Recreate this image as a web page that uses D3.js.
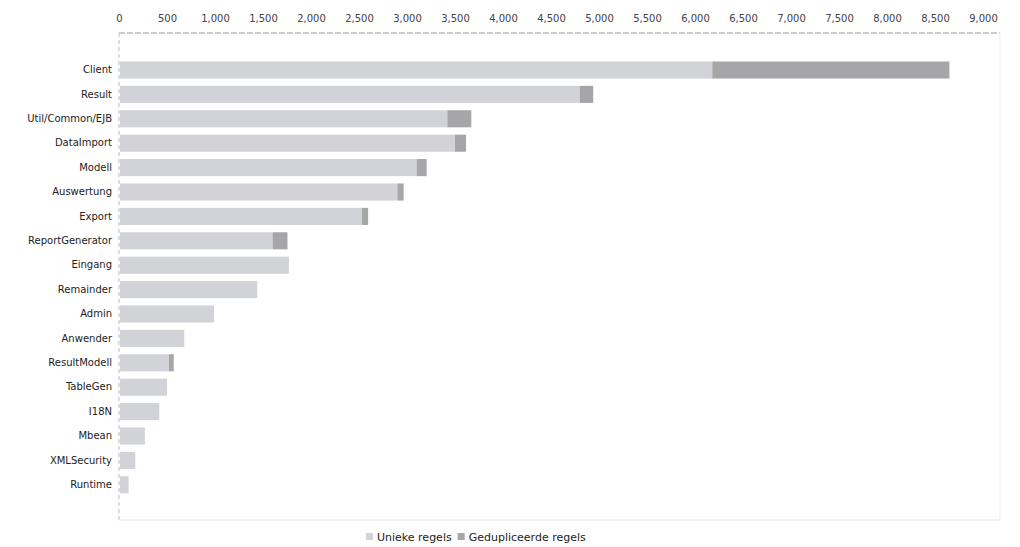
<!DOCTYPE html>
<html>
<head>
<meta charset="utf-8">
<script src="https://cdn.jsdelivr.net/npm/d3@7"></script>
<style>
  body { margin: 0; background: #fff; }
  text { font-family: "DejaVu Sans", sans-serif; fill: #333; }
</style>
</head>
<body>
<svg id="chart" width="1020" height="547"></svg>
<script>
// modules, ordered as in the chart
var modules = ["Client", "Result", "Util/Common/EJB", "DataImport", "Modell", "Auswertung",
  "Export", "ReportGenerator", "Eingang", "Remainder", "Admin", "Anwender",
  "ResultModell", "TableGen", "I18N", "Mbean", "XMLSecurity", "Runtime"];
var uniqueLines = [6180, 4800, 3420, 3500, 3100, 2900, 2530, 1600, 1770, 1440, 990, 680,
  520, 500, 420, 270, 170, 100];
var duplicateLines = [2470, 140, 250, 115, 105, 65, 65, 155, 0, 0, 0, 0,
  50, 0, 0, 0, 0, 0];
var xTicks = [0, 500, 1000, 1500, 2000, 2500, 3000, 3500, 4000, 4500, 5000,
  5500, 6000, 6500, 7000, 7500, 8000, 8500, 9000];
var seriesNames = ["Unieke regels", "Gedupliceerde regels"];
var colors = ["#d2d2d9", "#a6a6a8"];

var svg = d3.select("#chart");
var plotLeft = 119, plotRight = 1000, plotTop = 33, plotBottom = 520;

var x = d3.scaleLinear().domain([0, 9000]).range([plotLeft, 983]);
var y = d3.scaleBand().domain(modules).range([57.8, 497]).paddingInner(0.3).paddingOuter(0.15);

// frame
svg.append("line").attr("x1", plotLeft).attr("x2", plotRight).attr("y1", plotTop).attr("y2", plotTop)
  .attr("stroke", "#999").attr("stroke-dasharray", "6,2");
svg.append("line").attr("x1", plotLeft).attr("x2", plotLeft).attr("y1", plotTop).attr("y2", plotBottom)
  .attr("stroke", "#bbb").attr("stroke-dasharray", "4,3");
svg.append("line").attr("x1", plotLeft).attr("x2", plotRight).attr("y1", plotBottom).attr("y2", plotBottom)
  .attr("stroke", "#e4e4e4");
svg.append("line").attr("x1", plotRight).attr("x2", plotRight).attr("y1", plotTop).attr("y2", plotBottom)
  .attr("stroke", "#ececec");

// top axis labels
var xAxis = d3.axisTop(x).tickValues(xTicks).tickFormat(d3.format(",")).tickSize(0).tickPadding(8);
var gx = svg.append("g").attr("transform", "translate(0," + (plotTop - 3) + ")").call(xAxis);
gx.select(".domain").remove();
gx.selectAll("text").style("font-size", "10px").style("fill", "#444");

// bars
var rows = modules.map(function(m, i) {
  return { name: m, u: uniqueLines[i], d: duplicateLines[i] };
});

svg.selectAll(".uniq").data(rows).enter().append("rect")
  .attr("class", "uniq")
  .attr("x", x(0) + 1)
  .attr("y", function(d) { return y(d.name); })
  .attr("width", function(d) { return x(d.u) - x(0) - 1; })
  .attr("height", y.bandwidth())
  .attr("fill", colors[0]);

svg.selectAll(".dup").data(rows.filter(function(d) { return d.d > 0; })).enter().append("rect")
  .attr("class", "dup")
  .attr("x", function(d) { return x(d.u); })
  .attr("y", function(d) { return y(d.name); })
  .attr("width", function(d) { return x(d.u + d.d) - x(d.u); })
  .attr("height", y.bandwidth())
  .attr("fill", colors[1]);

// category labels
var yAxis = d3.axisLeft(y).tickSize(0).tickPadding(7);
var gy = svg.append("g").attr("transform", "translate(" + plotLeft + ",0)").call(yAxis);
gy.select(".domain").remove();
gy.selectAll("text").style("font-size", "10px").style("fill", "#222");

// legend
var legend = svg.append("g").attr("transform", "translate(366,537)");
var lx = 0;
seriesNames.forEach(function(name, i) {
  var g = legend.append("g").attr("transform", "translate(" + lx + ",0)");
  g.append("rect").attr("x", 0).attr("y", -4).attr("width", 7).attr("height", 7).attr("fill", colors[i]);
  var t = g.append("text").attr("x", 11).attr("y", 0).attr("dy", "0.35em")
    .style("font-size", "11px").style("fill", "#222").text(name);
  lx += 11 + t.node().getComputedTextLength() + 6;
});
</script>
</body>
</html>
